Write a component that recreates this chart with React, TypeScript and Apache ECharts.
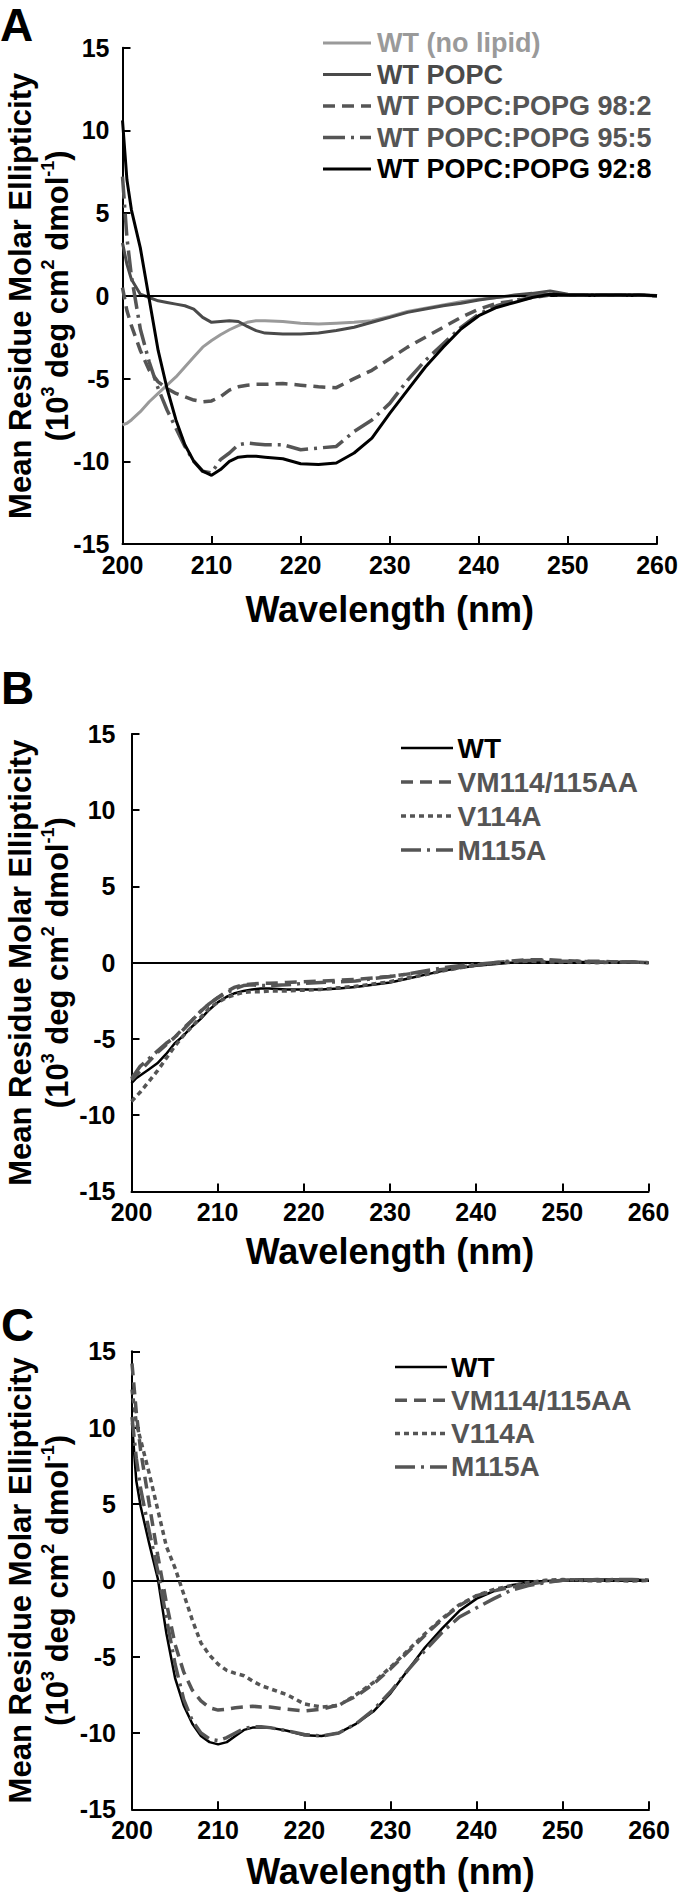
import React, { useEffect, useRef } from 'react';
import * as echarts from 'echarts';

// Wavelength grid (nm) shared by all curves
const WL = [200, 200.5, 201, 202, 203, 204, 205, 206, 207, 208, 209, 210, 211, 212, 213, 214, 215, 216, 218, 220, 222, 224, 226, 228, 230, 232, 234, 236, 238, 240, 242, 244, 246, 248, 250, 252, 254, 256, 258, 260];

// Panel A (10^3 deg cm2 dmol-1)
const A_NOLIPID = [-7.8, -7.7, -7.5, -7.0, -6.4, -5.9, -5.4, -4.9, -4.3, -3.7, -3.1, -2.7, -2.35, -2.05, -1.8, -1.6, -1.5, -1.5, -1.55, -1.65, -1.7, -1.65, -1.6, -1.5, -1.25, -0.95, -0.75, -0.55, -0.35, -0.2, -0.1, 0, 0.05, 0.1, 0.05, 0.05, 0.05, 0.05, 0.05, 0];
const A_POPC = [3.2, 1.9, 1.0, 0.1, -0.1, -0.3, -0.4, -0.5, -0.6, -0.8, -1.3, -1.6, -1.55, -1.5, -1.55, -1.85, -2.1, -2.25, -2.3, -2.3, -2.25, -2.1, -1.9, -1.6, -1.3, -1.0, -0.8, -0.6, -0.45, -0.25, -0.1, 0.05, 0.15, 0.3, 0.1, 0.05, 0.05, 0.05, 0.05, 0];
const A_PG98 = [0.5, -0.9, -1.8, -3.3, -4.5, -5.2, -5.6, -5.9, -6.1, -6.3, -6.4, -6.35, -6.1, -5.7, -5.5, -5.4, -5.35, -5.35, -5.3, -5.4, -5.5, -5.55, -5.0, -4.5, -3.8, -3.1, -2.5, -1.9, -1.3, -0.8, -0.45, -0.3, -0.1, 0.05, 0.05, 0.05, 0.05, 0.05, 0.05, 0];
const A_PG95 = [7.2, 3.5, 1.2, -2.0, -4.0, -5.6, -6.9, -8.0, -9.1, -10.0, -10.6, -10.7, -9.9, -9.5, -9.0, -8.9, -8.95, -9.0, -9.0, -9.3, -9.2, -9.1, -8.2, -7.5, -6.5, -5.1, -3.9, -2.9, -1.9, -1.1, -0.6, -0.3, 0, 0.1, 0.05, 0.05, 0.05, 0.05, 0.05, 0];
const A_PG92 = [10.6, 7.0, 5.2, 2.9, -0.2, -3.3, -5.6, -7.5, -9.0, -10.0, -10.6, -10.85, -10.5, -10.0, -9.75, -9.7, -9.7, -9.75, -9.85, -10.15, -10.2, -10.1, -9.5, -8.6, -7.1, -5.7, -4.3, -3.1, -2.0, -1.2, -0.7, -0.4, -0.1, 0.1, 0.05, 0.05, 0.05, 0.05, 0.05, 0];

// Panel B
const B_WT = [-7.9, -7.6, -7.4, -7.0, -6.6, -6.0, -5.3, -4.8, -4.2, -3.7, -3.1, -2.6, -2.25, -2.0, -1.85, -1.75, -1.7, -1.7, -1.75, -1.75, -1.75, -1.7, -1.6, -1.45, -1.3, -1.05, -0.8, -0.55, -0.35, -0.2, -0.1, 0, 0.05, 0.05, 0.05, 0.05, 0.05, 0.05, 0.05, 0];
const B_VM = [-7.7, -7.4, -7.1, -6.5, -5.9, -5.4, -4.9, -4.3, -3.8, -3.2, -2.7, -2.3, -1.9, -1.6, -1.45, -1.4, -1.35, -1.35, -1.3, -1.25, -1.2, -1.15, -1.1, -1.0, -0.9, -0.75, -0.6, -0.45, -0.3, -0.15, 0, 0.1, 0.2, 0.2, 0.15, 0.1, 0.1, 0.05, 0.05, 0];
const B_V114A = [-9.1, -8.8, -8.5, -7.8, -7.1, -6.3, -5.5, -4.8, -4.2, -3.6, -3.0, -2.6, -2.3, -2.1, -1.95, -1.9, -1.9, -1.85, -1.85, -1.8, -1.75, -1.65, -1.55, -1.4, -1.25, -1.0, -0.8, -0.55, -0.35, -0.15, -0.05, 0.05, 0.1, 0.05, 0.05, 0.05, 0, 0.05, 0.05, 0];
const B_M115A = [-7.6, -7.2, -6.8, -6.3, -5.8, -5.3, -4.9, -4.4, -3.8, -3.2, -2.7, -2.3, -2.0, -1.7, -1.5, -1.45, -1.5, -1.5, -1.45, -1.35, -1.3, -1.25, -1.2, -1.05, -0.9, -0.75, -0.55, -0.35, -0.2, -0.1, 0, 0.1, 0.15, 0.15, 0.1, 0.1, 0.05, 0.05, 0.05, 0];

// Panel C
const C_WT = [10.3, 6.5, 4.85, 2.4, 0.1, -3.5, -6.4, -8.2, -9.4, -10.2, -10.6, -10.75, -10.6, -10.2, -9.8, -9.65, -9.65, -9.65, -9.85, -10.15, -10.2, -10.0, -9.4, -8.6, -7.4, -5.9, -4.4, -3.15, -2.0, -1.2, -0.7, -0.33, -0.15, -0.05, 0, 0.05, 0.05, 0.05, 0.05, 0];
const C_VM = [14.2, 11.0, 8.5, 5.0, 1.6, -1.5, -4.2, -6.0, -7.2, -7.9, -8.35, -8.5, -8.45, -8.35, -8.3, -8.25, -8.3, -8.3, -8.45, -8.55, -8.45, -8.15, -7.6, -6.8, -5.8, -4.7, -3.6, -2.55, -1.65, -1.0, -0.7, -0.45, -0.25, -0.1, 0, 0, 0.05, 0, 0, 0];
const C_V114A = [12.5, 10.3, 9.2, 7.0, 4.6, 2.2, 0.8, -0.9, -2.6, -4.1, -4.9, -5.5, -5.9, -6.1, -6.25, -6.6, -6.9, -7.1, -7.5, -8.1, -8.3, -8.2, -7.5, -6.7, -5.7, -4.6, -3.5, -2.5, -1.6, -1.0, -0.6, -0.35, -0.15, 0, 0.05, 0, -0.05, 0, -0.05, 0];
const C_M115A = [10.7, 8.0, 6.0, 3.2, 0.6, -2.5, -5.5, -7.8, -9.2, -10.0, -10.4, -10.5, -10.3, -10.0, -9.7, -9.6, -9.6, -9.65, -9.85, -10.1, -10.2, -10.0, -9.4, -8.5, -7.3, -5.9, -4.6, -3.4, -2.4, -1.8, -1.2, -0.65, -0.35, -0.15, 0, 0.05, 0, 0.05, 0.05, 0];

const A_NAMES = ['WT (no lipid)', 'WT POPC', 'WT POPC:POPG 98:2', 'WT POPC:POPG 95:5', 'WT POPC:POPG 92:8'];
const BC_NAMES = ['WT', 'VM114/115AA', 'V114A', 'M115A'];
const PANEL_LETTERS = ['A', 'B', 'C'];
const X_TICKS = [200, 210, 220, 230, 240, 250, 260];
const Y_TICKS = [-15, -10, -5, 0, 5, 10, 15];
const X_NAME = 'Wavelength (nm)';
const Y_NAME = '{t|Mean Residue Molar Ellipticity}\n{t|(10}{s|3}{t| deg cm}{s|2}{t| dmol}{s|-1}{t|)}';

const FONT = '"Liberation Sans", Arial, Helvetica, sans-serif';

type Sty = { color: string; width: number; dash: number[] | null; text: string };
const STYLE_A: Sty[] = [
  { color: '#9a9a9a', width: 3, dash: null, text: '#9a9a9a' },
  { color: '#4a4a4a', width: 3, dash: null, text: '#4a4a4a' },
  { color: '#555555', width: 3.5, dash: [12, 7], text: '#555555' },
  { color: '#555555', width: 3.5, dash: [22, 6, 3, 6], text: '#555555' },
  { color: '#000000', width: 3, dash: null, text: '#000000' },
];
const STYLE_BC: Sty[] = [
  { color: '#000000', width: 2.5, dash: null, text: '#000000' },
  { color: '#555555', width: 3.5, dash: [12, 7], text: '#555555' },
  { color: '#555555', width: 3.5, dash: [5, 4], text: '#555555' },
  { color: '#555555', width: 3.5, dash: [20, 6, 3, 6], text: '#555555' },
];

const PANELS = [
  {
    grid: { left: 122.5, top: 47.7, width: 534.5, height: 496.3 },
    yNameGap: 46.5, yLabelMargin: 13, xNameGap: 47,
    names: A_NAMES, styles: STYLE_A, values: [A_NOLIPID, A_POPC, A_PG98, A_PG95, A_PG92],
    legend: { x1: 323, x2: 371, tx: 377, y0: 43, dy: 31.5, fs: 27 },
    letter: { left: 0, top: 2 },
  },
  {
    grid: { left: 131.5, top: 734, width: 517, height: 457.4 },
    yNameGap: 55.5, yLabelMargin: 16, xNameGap: 42,
    names: BC_NAMES, styles: STYLE_BC, values: [B_WT, B_VM, B_V114A, B_M115A],
    legend: { x1: 401, x2: 453, tx: 457.5, y0: 748, dy: 34, fs: 28 },
    letter: { left: 1, top: 665 },
  },
  {
    grid: { left: 132, top: 1351.3, width: 517, height: 458 },
    yNameGap: 56, yLabelMargin: 16, xNameGap: 44,
    names: BC_NAMES, styles: STYLE_BC, values: [C_WT, C_VM, C_V114A, C_M115A],
    legend: { x1: 395, x2: 447, tx: 451, y0: 1367, dy: 33.3, fs: 28 },
    letter: { left: 1, top: 1302 },
  },
];

const pair = (vals: number[]) => WL.map((w, i) => [w, vals[i]]);

export default function App() {
  const ref = useRef<HTMLDivElement>(null);
  useEffect(() => {
    if (!ref.current) return;
    const chart = echarts.init(ref.current, null, { renderer: 'svg' });
    const axisLineStyle = { color: '#000', width: 2 };
    const labelStyle = { color: '#000', fontSize: 25, fontWeight: 'bold', fontFamily: FONT };

    const grids: any[] = [];
    const xAxes: any[] = [];
    const yAxes: any[] = [];
    const series: any[] = [];
    const graphics: any[] = [];

    PANELS.forEach((p, gi) => {
      grids.push({ ...p.grid, containLabel: false, outerBoundsMode: 'none' });
      xAxes.push({
        type: 'value', gridIndex: gi, min: X_TICKS[0], max: X_TICKS[X_TICKS.length - 1], interval: 10,
        axisLine: { show: true, onZero: false, lineStyle: axisLineStyle },
        axisTick: { show: true, inside: true, length: 8, lineStyle: axisLineStyle },
        axisLabel: { show: true, margin: 8, ...labelStyle },
        splitLine: { show: false },
        name: X_NAME, nameLocation: 'middle', nameGap: p.xNameGap, nameMoveOverlap: false,
        nameTextStyle: { fontSize: 36, fontWeight: 'bold', fontFamily: FONT, color: '#000' },
      });
      yAxes.push({
        type: 'value', gridIndex: gi, min: Y_TICKS[0], max: Y_TICKS[Y_TICKS.length - 1], interval: 5,
        axisLine: { show: true, onZero: false, lineStyle: axisLineStyle },
        axisTick: { show: true, inside: true, length: 8, lineStyle: axisLineStyle },
        axisLabel: { show: true, margin: p.yLabelMargin, ...labelStyle },
        splitLine: { show: false },
        name: Y_NAME, nameLocation: 'middle', nameRotate: 90, nameGap: p.yNameGap, nameMoveOverlap: false,
        nameTextStyle: {
          color: '#000', fontWeight: 'bold', fontFamily: FONT, fontSize: 31, lineHeight: 37,
          rich: {
            t: { color: '#000', fontWeight: 'bold', fontFamily: FONT, fontSize: 31, lineHeight: 37 },
            s: { color: '#000', fontWeight: 'bold', fontFamily: FONT, fontSize: 18, lineHeight: 26, verticalAlign: 'top' },
          },
        },
      });
      p.names.forEach((name, si) => {
        const st = p.styles[si];
        const s: any = {
          type: 'line', name, xAxisIndex: gi, yAxisIndex: gi,
          data: pair(p.values[si]),
          symbol: 'none', showSymbol: false, silent: true, z: 3 + si,
          lineStyle: { color: st.color, width: st.width, type: st.dash ? st.dash : 'solid', cap: 'butt' },
          itemStyle: { color: st.color },
        };
        if (si === 0) {
          s.markLine = {
            silent: true, symbol: ['none', 'none'], label: { show: false },
            lineStyle: { color: '#000', width: 2, type: 'solid' },
            emphasis: { disabled: true },
            data: [{ yAxis: 0 }],
          };
        }
        series.push(s);
        // legend row
        const y = p.legend.y0 + si * p.legend.dy;
        graphics.push({
          type: 'line', silent: true,
          shape: { x1: p.legend.x1, y1: y, x2: p.legend.x2, y2: y },
          style: { stroke: st.color, lineWidth: st.width, lineDash: st.dash || undefined },
        });
        graphics.push({
          type: 'text', silent: true, x: p.legend.tx, y,
          style: { text: name, fill: st.text, fontSize: p.legend.fs, fontWeight: 'bold', fontFamily: FONT, verticalAlign: 'middle', align: 'left' },
        });
      });
      graphics.push({
        type: 'text', silent: true, left: p.letter.left, top: p.letter.top,
        style: { text: PANEL_LETTERS[gi], fill: '#000', fontSize: 46, fontWeight: 'bold', fontFamily: FONT },
      });
    });

    chart.setOption({
      animation: false,
      backgroundColor: '#ffffff',
      grid: grids,
      xAxis: xAxes,
      yAxis: yAxes,
      series,
      graphic: graphics,
    });
    return () => chart.dispose();
  }, []);
  return (
    <div
      ref={ref}
      style={{ position: 'absolute', left: 0, top: 0, width: 680, height: 1893, background: '#fff' }}
    />
  );
}
